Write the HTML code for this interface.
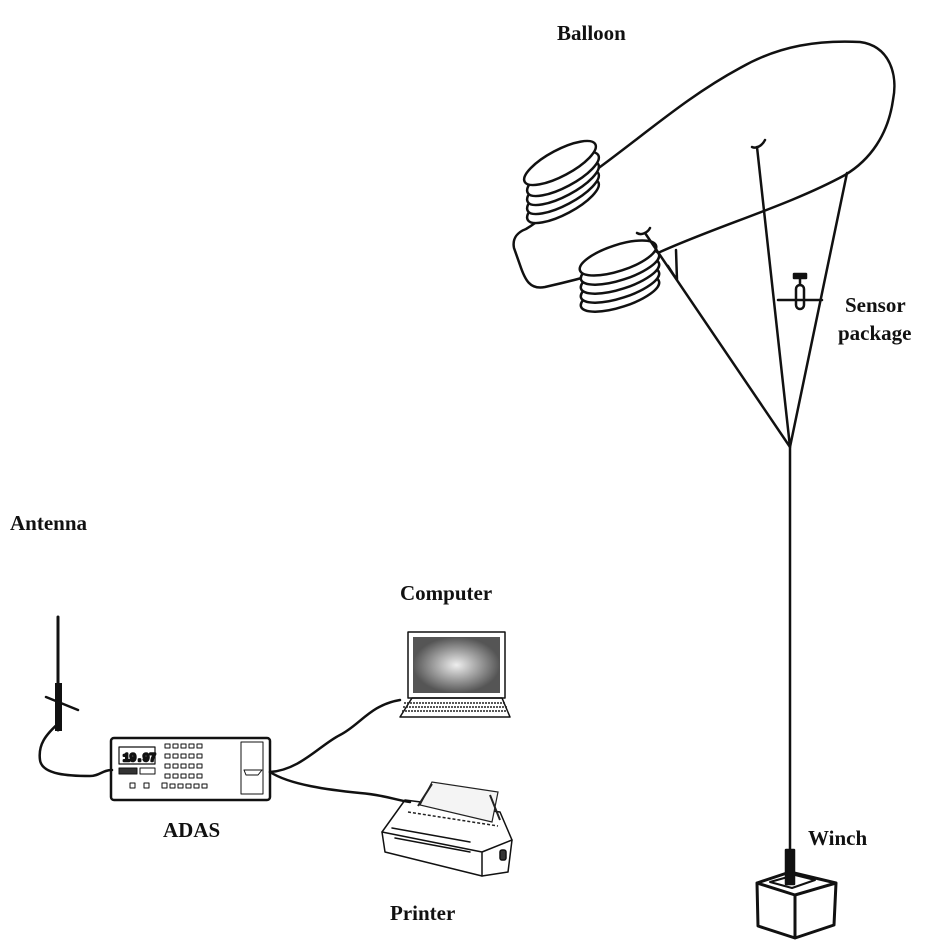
<!DOCTYPE html>
<html><head><style>
body{margin:0;background:#fff}
svg{display:block}
text{font-family:"Liberation Serif",serif;font-weight:bold;font-size:21px;fill:#111}
</style></head><body>
<svg width="947" height="947" viewBox="0 0 947 947" xmlns="http://www.w3.org/2000/svg">
<g fill="none" stroke="#111" stroke-width="2.5" stroke-linejoin="round" stroke-linecap="round">
<!-- balloon body -->
<path d="M600,167 C650,130 690,95 740,68 C780,45 820,40 860,42 C890,46 898,75 893,100 C888,135 870,160 845,175 C790,205 720,225 660,252 C620,268 585,278 545,287 C530,290 525,280 520,265 L514,248 C512,238 518,232 526,229 C550,215 575,185 600,167 Z"/>
<g fill="#fff">
<!-- fins upper -->
<ellipse cx="563" cy="201" rx="40" ry="13" transform="rotate(-28 563 201)"/>
<ellipse cx="563" cy="192" rx="40" ry="13" transform="rotate(-28 563 192)"/>
<ellipse cx="563" cy="183" rx="40" ry="13" transform="rotate(-28 563 183)"/>
<ellipse cx="563" cy="174" rx="40" ry="13" transform="rotate(-28 563 174)"/>
<ellipse cx="560" cy="163" rx="40" ry="13" transform="rotate(-28 560 163)"/>
<!-- fins lower -->
<ellipse cx="620" cy="294" rx="41" ry="13" transform="rotate(-18 620 294)"/>
<ellipse cx="620" cy="285" rx="41" ry="13" transform="rotate(-18 620 285)"/>
<ellipse cx="620" cy="276" rx="41" ry="13" transform="rotate(-18 620 276)"/>
<ellipse cx="620" cy="267" rx="41" ry="13" transform="rotate(-18 620 267)"/>
<ellipse cx="618" cy="258" rx="40" ry="13" transform="rotate(-18 618 258)"/>
</g>
<!-- cables -->
<path d="M645,233 L790,447 M757,147 L790,447 M847,173 L790,447 M676,250 L677,280 L668,266 M778,300 L822,300"/>
<path d="M637,233 C642,236 648,232 650,228 M752,147 C756,149 762,146 765,140"/>
<path d="M790,447 L790,850"/>
<!-- sensor -->
<rect x="796" y="285" width="8" height="24" rx="4"/>
<path d="M800,285 L800,278"/>
<rect x="794" y="274" width="12" height="4" fill="#111"/>
<!-- winch -->
<path d="M757,883 L790,872 L836,883 L795,895 Z M757,883 L758,926 L795,938 L834,925 L836,883 M795,895 L795,938" stroke-width="3"/>
<path d="M770,882 L795,875 L815,880 L792,888 Z" stroke-width="2"/>
<rect x="786" y="850" width="8" height="34" fill="#111"/>
<!-- antenna -->
<path d="M58,617 L58,730" stroke-width="3"/>
<rect x="55" y="683" width="7" height="48" fill="#111" stroke="none"/>
<path d="M46,697 L78,710"/>
<path d="M60,722 C45,735 38,745 40,760 C42,775 70,776 90,776 C100,776 102,770 112,770" stroke-width="2.5"/>
<!-- ADAS -->
<rect x="111" y="738" width="159" height="62" rx="3"/>
<rect x="119" y="747" width="36" height="17" stroke-width="1.2"/>
<text x="123" y="761" style="font-family:'Liberation Mono',monospace;font-size:11px;font-weight:normal">19.97</text>
<rect x="119" y="768" width="18" height="6" fill="#333" stroke-width="1"/>
<rect x="140" y="768" width="15" height="6" stroke-width="1"/>
<g stroke-width="1">
<rect x="165" y="744" width="5" height="4"/><rect x="173" y="744" width="5" height="4"/><rect x="181" y="744" width="5" height="4"/><rect x="189" y="744" width="5" height="4"/><rect x="197" y="744" width="5" height="4"/>
<rect x="165" y="754" width="5" height="4"/><rect x="173" y="754" width="5" height="4"/><rect x="181" y="754" width="5" height="4"/><rect x="189" y="754" width="5" height="4"/><rect x="197" y="754" width="5" height="4"/>
<rect x="165" y="764" width="5" height="4"/><rect x="173" y="764" width="5" height="4"/><rect x="181" y="764" width="5" height="4"/><rect x="189" y="764" width="5" height="4"/><rect x="197" y="764" width="5" height="4"/>
<rect x="165" y="774" width="5" height="4"/><rect x="173" y="774" width="5" height="4"/><rect x="181" y="774" width="5" height="4"/><rect x="189" y="774" width="5" height="4"/><rect x="197" y="774" width="5" height="4"/>
<rect x="170" y="784" width="5" height="4"/><rect x="178" y="784" width="5" height="4"/><rect x="186" y="784" width="5" height="4"/><rect x="194" y="784" width="5" height="4"/><rect x="202" y="784" width="5" height="4"/>
<rect x="130" y="783" width="5" height="5"/><rect x="144" y="783" width="5" height="5"/><rect x="162" y="783" width="5" height="5"/>
<rect x="241" y="742" width="22" height="52"/>
<path d="M244,770 L262,770 L258,775 L246,775 Z"/>
</g>
<!-- cables to computer/printer -->
<path d="M270,772 C300,770 320,745 340,735 C360,725 370,705 400,700"/>
<path d="M270,772 C290,785 330,790 360,793 C385,795 395,800 410,802"/>
<!-- computer -->
<rect x="408" y="632" width="97" height="66" stroke-width="1.5"/>
<path d="M400,717 L412,698 L502,698 L510,717 Z" stroke-width="1.5"/>
<!-- printer -->
<g stroke-width="1.5">
<path d="M382,832 L405,800 L500,812 L512,840 L508,872 L482,876 L385,852 Z"/>
<path d="M382,832 L482,852 L512,840 M482,852 L482,876"/>
<path d="M392,828 L470,842 M395,838 L470,852"/>
<rect x="500" y="850" width="6" height="10" rx="2" fill="#333"/>
</g>
</g>
<defs><radialGradient id="g"><stop offset="0" stop-color="#eee"/><stop offset="1" stop-color="#555"/></radialGradient></defs>
<rect x="413" y="637" width="87" height="56" fill="url(#g)"/>
<g stroke="#222" stroke-width="1.5">
<path d="M404,703 L506,703 M403,707 L507,707 M402,711 L508,711" stroke-dasharray="2 1"/>
<path d="M408,812 L498,826" stroke-dasharray="3 2"/>
</g>
<path d="M420,805 L432,782 L498,792 L492,822 Z" fill="#f4f4f4" stroke="#222" stroke-width="1.2"/>
<path d="M418,806 L432,784 M490,795 L500,820" stroke="#222" stroke-width="2"/>
<text x="557" y="40">Balloon</text>
<text x="845" y="312">Sensor</text>
<text x="838" y="340">package</text>
<text x="10" y="530">Antenna</text>
<text x="400" y="600">Computer</text>
<text x="163" y="837">ADAS</text>
<text x="390" y="920">Printer</text>
<text x="808" y="845">Winch</text>
</svg>
</body></html>
